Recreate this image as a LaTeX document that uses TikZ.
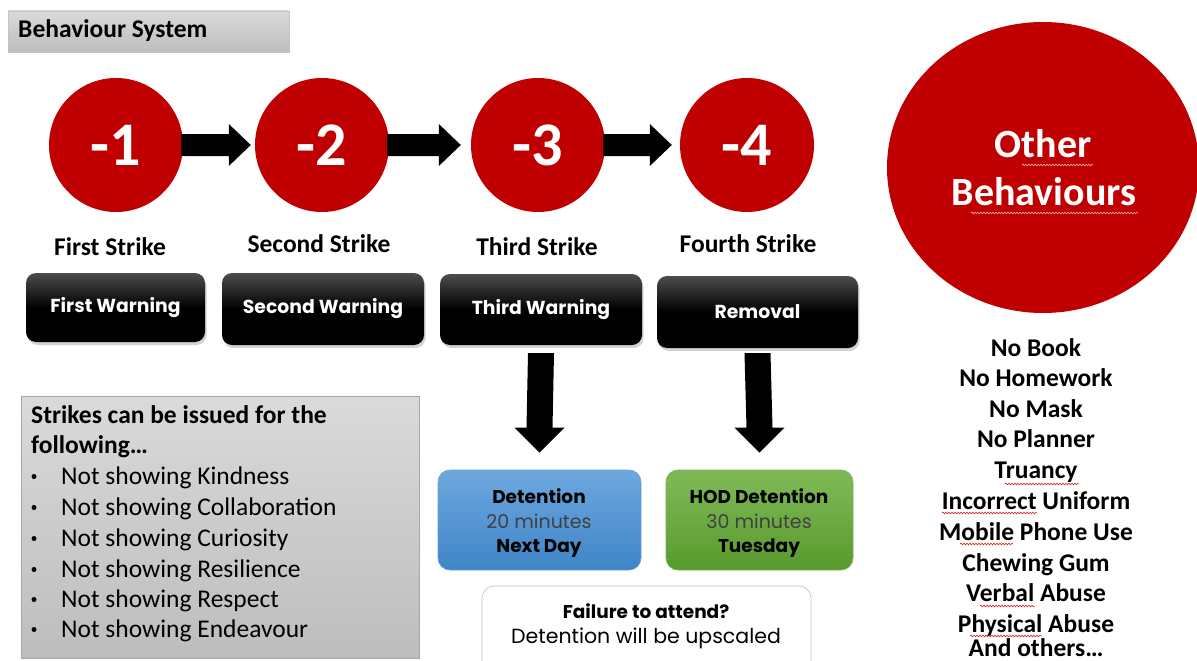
\documentclass[tikz,border=0pt]{standalone}
\usepackage{fontspec}
\setmainfont{Carlito}
\newfontfamily\gothic{Poppins}
\usetikzlibrary{calc,shadows,decorations.pathmorphing,shapes.geometric}
\definecolor{strikered}{HTML}{C00000}
\definecolor{boxgreytop}{HTML}{DADADA}
\definecolor{boxgreybot}{HTML}{BDBDBD}
\definecolor{boxedge}{HTML}{A6A6A6}
\definecolor{bluetop}{HTML}{6EA8E0}
\definecolor{bluebot}{HTML}{3F85C7}
\definecolor{greentop}{HTML}{80BA58}
\definecolor{greenbot}{HTML}{589A2C}
\newcommand\fatright[3]{%
  \fill[black] ($(#1.east)+(-2,-11)$) -- ($(#2.west)+(-#3-22,-11)$) -- ($(#2.west)+(-#3-22,-21)$)
   -- ($(#2.west)+(-#3,0)$) -- ($(#2.west)+(-#3-22,21)$) -- ($(#2.west)+(-#3-22,11)$)
   -- ($(#1.east)+(-2,11)$) -- cycle;}
\newcommand\fatdown[3]{%
  \fill[black] ($(#1.south)+(-13,#3)$) -- ($(#2.north)+(-13,-42)$) -- ($(#2.north)+(-25,-42)$)
   -- ($(#2.north)+(0,-17)$) -- ($(#2.north)+(25,-42)$) -- ($(#2.north)+(13,-42)$)
   -- ($(#1.south)+(13,#3)$) -- cycle;}
\begin{document}
\begin{tikzpicture}[x=1pt,y=-1pt,
  strike/.style={circle, fill=strikered, minimum size=134pt, inner sep=0pt, text=white,
    font=\fontsize{62}{62}\selectfont\bfseries},
  strikelabel/.style={anchor=base, inner sep=0pt, font=\fontsize{25.5}{30}\selectfont\bfseries},
  warn/.style={rounded corners=10pt, top color=black!70, bottom color=black, middle color=black,
    text=white, inner sep=0pt, font=\gothic\fontsize{18.8}{22}\selectfont\bfseries,
    drop shadow={opacity=0.35, shadow xshift=1.5pt, shadow yshift=-3pt}},
  plainline/.style={anchor=base west, inner sep=0pt, font=\fontsize{25.5}{30}\selectfont},
  boldline/.style={anchor=base west, inner sep=0pt, font=\fontsize{25.5}{30}\selectfont\bfseries},
  bulletdot/.style={circle, fill=black, minimum size=5pt, inner sep=0pt},
  otherline/.style={anchor=base, inner sep=0pt, font=\fontsize{25.5}{30}\selectfont\bfseries},
  detbox/.style={rounded corners=12pt, inner sep=0pt, draw=white!85!black, line width=0.6pt},
  gbold/.style={anchor=base, inner sep=0pt, font=\gothic\fontsize{18.5}{22}\selectfont\bfseries},
  greg/.style={anchor=base, inner sep=0pt, font=\gothic\fontsize{19}{22}\selectfont},
  squig/.style={draw=red!85!black, line width=0.5pt, decorate,
    decoration={snake, amplitude=0.9pt, segment length=3pt}},
]
\useasboundingbox (0,0) rectangle (1197,661);
\clip (0,0) rectangle (1197,661);

% title
\node[draw=boxgreytop!90!black, top color=boxgreytop, bottom color=boxgreybot, minimum width=281pt,
  minimum height=41pt, inner sep=0pt] (title) at (148.5,31.5) {};
\node[boldline] (titletext) at (18,38) {Behaviour System};

% strike circles
\node[strike] (c1) at (116,145) {-1};
\node[strike] (c2) at (322,145) {-2};
\node[strike] (c3) at (538,145) {-3};
\node[strike] (c4) at (747,145) {-4};
\fatright{c1}{c2}{4}
\fatright{c2}{c3}{10}
\fatright{c3}{c4}{8}

% strike labels
\node[strikelabel] (l1) at (110,255) {First Strike};
\node[strikelabel] (l2) at (319,252) {Second Strike};
\node[strikelabel] (l3) at (537,255) {Third Strike};
\node[strikelabel] (l4) at (748,252) {Fourth Strike};

% warning boxes
\node[warn, minimum width=179pt, minimum height=69pt] (w1) at (115.5,307.5) {First Warning};
\node[warn, minimum width=202pt, minimum height=72pt] (w2) at (323,309) {Second Warning};
\node[warn, minimum width=202pt, minimum height=71pt] (w3) at (541,309.5) {Third Warning};
\node[warn, minimum width=201pt, minimum height=72pt] (w4) at (757.5,312) {Removal};

% detention boxes
\node[detbox, draw=bluebot!80!white, top color=bluetop, bottom color=bluebot,
  minimum width=203pt, minimum height=100pt] (d1) at (539.5,520) {};
\node[detbox, draw=greenbot!80!white, top color=greentop, bottom color=greenbot,
  minimum width=187pt, minimum height=100pt] (d2) at (759.5,520) {};
\fatdown{w3}{d1}{8}
\fatdown{w4}{d2}{5}
\node[gbold] (d1a) at (539,503) {Detention};
\node[greg, text=black!75] (d1b) at (539,528) {20 minutes};
\node[gbold] (d1c) at (539,552) {Next Day};
\node[gbold] (d2a) at (759,503) {HOD Detention};
\node[greg, text=black!75] (d2b) at (759,528) {30 minutes};
\node[gbold] (d2c) at (759,552) {Tuesday};

% failure box
\node[detbox, draw=black!25, fill=white, minimum width=329pt, minimum height=100pt] (fail) at (646.5,636) {};
\node[gbold] (faila) at (646,618) {Failure to attend?};
\node[greg, font=\gothic\fontsize{20.5}{22}\selectfont] (failb) at (646,643) {Detention will be upscaled};

% strikes list box
\node[draw=boxedge, top color=boxgreytop, bottom color=boxgreybot, minimum width=398pt,
  minimum height=262pt, inner sep=0pt] (list) at (220,527) {};
\node[boldline] (s0) at (31,423) {Strikes can be issued for the};
\node[boldline] (s1) at (31,453) {following\dots};
\foreach \y/\t [count=\i] in {484/Kindness,515/Collaboration,546/Curiosity,577/Resilience,607/Respect,637/Endeavour}{
  \node[bulletdot] (b\i) at (34,\y-7.5) {};
  \node[plainline] (t\i) at (61,\y) {Not showing \t};
}

% other behaviours
\node[ellipse, fill=strikered, minimum width=312pt, minimum height=291pt, inner sep=0pt] (other) at (1043,167.5) {};
\node[anchor=base, inner sep=0pt, text=white, font=\fontsize{40}{44}\selectfont\bfseries] (o1) at (1043,157) {Other};
\node[anchor=base, inner sep=0pt, text=white, font=\fontsize{40}{44}\selectfont\bfseries] (o2) at (1044,205) {Behaviours};
\draw[squig, draw=red!25!white] (1022,165) -- (1093,165);
\draw[squig, draw=red!25!white] (971,213) -- (1138,213);

\foreach \y/\t [count=\i] in {356/No Book,386/No Homework,417/No Mask,447/No Planner,478/Truancy,
  509/Incorrect Uniform,540/Mobile Phone Use,571/Chewing Gum,601/Verbal Abuse,632/Physical Abuse,656/And others\dots}{
  \node[otherline] (ob\i) at (1036,\y) {\t};
}
\draw[squig] (1005,484) -- (1079,484);
\draw[squig] (942,513) -- (1037,513);
\draw[squig] (960,544) -- (1013,544);
\draw[squig] (980,606) -- (1035,606);
\draw[squig] (970,636) -- (1042,636);
\end{tikzpicture}
\end{document}
